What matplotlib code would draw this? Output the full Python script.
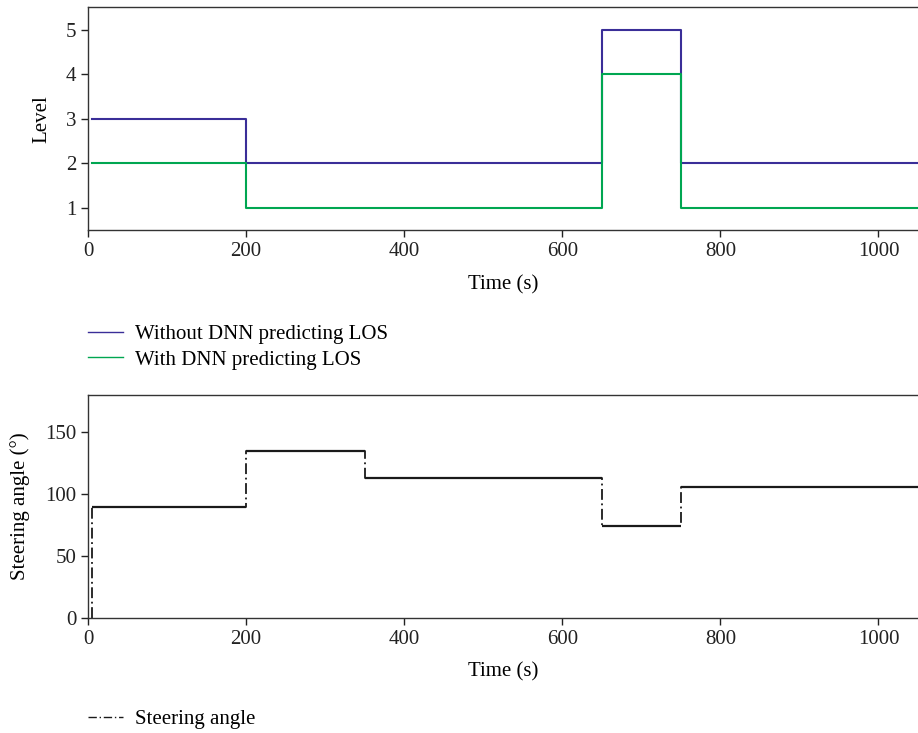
import numpy as np
import matplotlib.pyplot as plt

# step change times (s) and levels
t_edges = [5, 200, 650, 750, 1050]
level_without = [3, 2, 5, 2]
level_with = [2, 1, 4, 1]

steer_edges = [5, 200, 350, 650, 750, 1050]
steer_angle = [90, 135, 113, 74, 106]

plt.rcParams['font.family'] = ['Liberation Serif', 'DejaVu Serif']
fs = 15

fig = plt.figure(figsize=(9.18, 7.33), dpi=100)
ax1 = fig.add_axes([0.0959, 0.686, 0.9041, 0.304])
ax2 = fig.add_axes([0.0959, 0.157, 0.9041, 0.304])


def step_xy(edges, vals):
    x = [edges[0]]
    y = [vals[0]]
    for i in range(len(vals)):
        x.append(edges[i + 1])
        y.append(vals[i])
        if i + 1 < len(vals):
            x.append(edges[i + 1])
            y.append(vals[i + 1])
    return x, y


x, y = step_xy(t_edges, level_without)
ax1.plot(x, y, color="#3a2e98", lw=1.5, label="Without DNN predicting LOS")
x, y = step_xy(t_edges, level_with)
ax1.plot(x, y, color="#00a651", lw=1.5, label="With DNN predicting LOS")
ax1.set_xlim(0, 1050)
ax1.set_ylim(0.5, 5.5)
ax1.set_yticks([1, 2, 3, 4, 5])
ax1.set_xticks([0, 200, 400, 600, 800, 1000])
ax1.set_xlabel("Time (s)", fontsize=fs, labelpad=10)
ax1.set_ylabel("Level", fontsize=fs, labelpad=10)

# steering angle: starts from 0 then steps
x, y = step_xy(steer_edges, steer_angle)
x = [steer_edges[0]] + x
y = [0] + y
ax2.plot(x, y, color="#1a1a1a", lw=1.3, linestyle=(0, (6, 2, 1, 2)), label="Steering angle")
ax2.hlines(steer_angle, steer_edges[:-1], steer_edges[1:], color="#1a1a1a", lw=1.6)
ax2.set_xlim(0, 1050)
ax2.set_ylim(0, 180)
ax2.set_yticks([0, 50, 100, 150])
ax2.set_xticks([0, 200, 400, 600, 800, 1000])
ax2.set_xlabel("Time (s)", fontsize=fs, labelpad=10)
ax2.set_ylabel("Steering angle (°)", fontsize=fs, labelpad=11)

for ax in (ax1, ax2):
    ax.spines['right'].set_visible(False)
    for s in ('top', 'left', 'bottom'):
        ax.spines[s].set_color("#333333")
        ax.spines[s].set_linewidth(1.0)
    ax.tick_params(direction='out', length=5, width=1, colors="#222222", labelsize=fs)

leg1 = fig.legend(handles=ax1.get_lines(), loc='upper left', bbox_to_anchor=(0.087, 0.569),
                  frameon=False, handlelength=1.65, handletextpad=0.6, labelspacing=0.3,
                  fontsize=fs, borderaxespad=0)
for h in leg1.legend_handles:
    h.set_linewidth(1.0)
leg2 = fig.legend(handles=[ax2.get_lines()[0]], loc='upper left', bbox_to_anchor=(0.087, 0.043),
                  frameon=False, handlelength=1.65, handletextpad=0.6, fontsize=fs, borderaxespad=0)
for h in leg2.legend_handles:
    h.set_linewidth(1.0)

fig.savefig("out.png", dpi=100)
